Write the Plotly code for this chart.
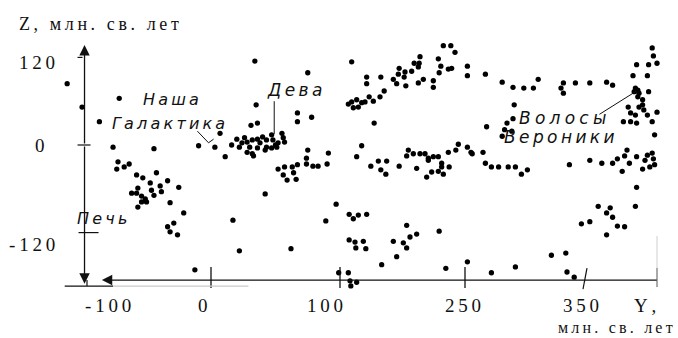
import numpy as np
import plotly.graph_objects as go

# Galaxy positions, millions of light years (Y horizontal, Z vertical)
FORNAX_Y = [-116, -104, -74, -90, -79, -46, -10,
            -75, -66, -70, -76, -60, -55, -44, -49, -35, -26, -41, -59, -64, -60,
            -56, -53, -56, -52, -46, -40, -48, -59, -33, -22, -30, -35, -33, -27, -13]
FORNAX_Z = [84, 52, 64, 32, -3, -5, -1,
            -23, -26, -30, -33, -41, -45, -38, -52, -49, -58, -56, -59, -66, -66,
            -70, -74, -78, -78, -69, -64, -62, -85, -79, -93, -107, -112, -119, -123, -171]

VIRGO_Y = [3, 7, 11, 16, 20, 24, 22, 26, 28, 30, 32, 36, 38, 36, 32, 33, 40, 43, 43, 47,
           48, 50, 52, 55, 56, 57, 51, 47, 42, 28,
           34, 75, 35, 67, 67, 78, 31, 36,
           52, 57, 63, 67, 74, 79, 83, 90, 56, 64, 59, 66, 75, 74, 91,
           42, 17, 22, 62, 89, 97, 99]
VIRGO_Z = [-3, 16, -16, 0, 8, 3, -3, 10, 4, -3, 7, 8, 3, -4, -12, -15, 11, 7, -3, 14,
           7, 0, 3, 16, 10, 4, -3, -4, -7, -10,
           115, 99, 55, 44, 32, 38, 27, 30,
           -33, -30, -30, -27, -26, -29, -29, -26, -41, -38, -48, -47, -7, -18, -11,
           -67, -103, -145, -142, -104, -81, -175]

MID_Y = [114, 132, 132, 135, 110, 114, 120, 126, 130, 116, 122, 120, 126,
         111, 116, 122, 132, 111, 118, 128, 119, 131, 110, 112, 120, 113,
         137, 149, 155, 146, 156, 171, 192, 204, 210, 218, 224, 222, 222, 231, 206,
         180, 184, 192, 219, 164, 176, 180, 168, 150, 227,
         224, 233, 238, 196, 195, 189, 194, 186, 171, 170, 178, 177, 164, 168, 179,
         194, 200, 212, 212, 149, 218, 221, 219, 230, 234, 153, 148, 140, 141,
         242, 239, 230, 252, 255, 256, 265, 218, 212, 206, 202, 196, 188, 182, 180]
MID_Z = [114, 93, 84, 66, 56, 59, 62, 58, 59, 51, 52, -16, -1,
         -95, -101, -96, -95, -130, -133, -132, -141, -142, -175, -186, -188, -193,
         -29, -34, -40, -22, -22, -29, -32, -44, -37, -36, -40, -25, -30, -30, -21,
         -110, -126, -122, -118, -132, -134, -141, -153, -164, -169,
         136, 136, 127, 121, 112, 112, 107, 101, 105, 97, 100, 93, 90, 84, 81,
         85, 90, 88, 79, 93, 118, 108, 99, 104, 105, 74, 66, 60, 30,
         1, -7, -10, -3, -10, -12, -10, -16, -16, -18, -12, -12, -12, -7, -15]

FAR_Y = [252, 252, 267, 281, 290, 299, 291, 290, 285, 283, 289, 281, 268,
         267, 272, 278, 286, 292, 297, 302, 252, 272, 292,
         307, 311, 332, 330, 332, 342, 354, 368, 373,
         406, 407, 410, 403, 393,
         385, 354, 364, 377, 383, 387, 393, 400, 402, 406, 407, 337, 373, 381, 398, 404, 408,
         393, 392, 361, 371, 368, 373, 377, 383, 354, 347, 368, 334, 322, 335, 341]
FAR_Z = [108, 95, 97, 86, 79, 78, 55, 36, 30, 21, 19, 12, 25,
         -25, -30, -30, -30, -30, -40, -34, -160, -175, -167,
         78, 90, 85, 78, 71, 85, 85, 86, 82,
         133, 122, 112, 110, 110,
         -7, -21, -25, -19, -15, -25, -16, -21, -14, -11, -19, -27, -25, -36, -33, -30, -27,
         -58, -84, -84, -86, -93, -99, -111, -112, -105, -108, -123, -148, -151, -174, -181]

COMA_Y = [390, 402, 392, 394, 391, 395, 403, 394, 398, 398, 395, 399, 386, 388, 392,
          388, 402, 410, 382, 393, 406, 408]
COMA_Z = [95, 95, 78, 75, 73, 71, 73, 66, 62, 55, 52, 48, 52, 44, 41,
          32, 41, 45, 32, 30, 32, 14]

# Axis ticks and their labels
Y_TICKS = [-100, 0, 100, 250, 350]
Y_TICK_TEXT = ["-100", "0", "100", "250", "350"]
Z_TICKS = [120, 0, -120]
Z_TICK_TEXT = ["120", "0", "-120"]

# The horizontal scale of the diagram is drawn unevenly: where each tick sits
Y_TICK_POS = [87, 211, 340, 465, 585]
W, H = 678, 338
Z_ZERO_PX, PX_PER_Z = 145, 0.73
Z_RANGE = [-(H - Z_ZERO_PX) / PX_PER_Z, Z_ZERO_PX / PX_PER_Z]

Z_AXIS_AT_Y = -102     # where the vertical axis crosses
Y_AXIS_AT_Z = -185     # where the horizontal axis runs


def y_scale(v):
    v = np.atleast_1d(np.asarray(v, dtype=float))
    out = np.interp(v, Y_TICKS, Y_TICK_POS)
    lo_slope = (Y_TICK_POS[1] - Y_TICK_POS[0]) / (Y_TICKS[1] - Y_TICKS[0])
    hi_slope = (Y_TICK_POS[-1] - Y_TICK_POS[-2]) / (Y_TICKS[-1] - Y_TICKS[-2])
    lo, hi = v < Y_TICKS[0], v > Y_TICKS[-1]
    out[lo] = Y_TICK_POS[0] + (v[lo] - Y_TICKS[0]) * lo_slope
    out[hi] = Y_TICK_POS[-1] + (v[hi] - Y_TICKS[-1]) * hi_slope
    return out


def ys(v):
    return float(y_scale(v)[0])


def spaced(s, gap="\u2009"):
    return gap.join(s)


gal_y = FORNAX_Y + VIRGO_Y + MID_Y + FAR_Y + COMA_Y
gal_z = FORNAX_Z + VIRGO_Z + MID_Z + FAR_Z + COMA_Z

fig = go.Figure()
fig.add_trace(go.Scatter(
    x=y_scale(gal_y), y=gal_z, mode="markers",
    marker=dict(size=5.3, color="black", line=dict(width=0)),
    hoverinfo="skip", showlegend=False, cliponaxis=False,
))

SERIF = "Liberation Serif"
HAND = "DejaVu Sans"
INK = "#111111"

shapes = []
annotations = []

ax_x = ys(Z_AXIS_AT_Y)

# Axis arrows
for tip in (137, -190):
    annotations.append(dict(x=ax_x, y=tip, ax=ax_x, ay=0, xref="x", yref="y",
                            axref="x", ayref="y", text="", showarrow=True,
                            arrowhead=2, arrowsize=1.6, arrowwidth=1.3,
                            arrowcolor=INK, standoff=0))
annotations.append(dict(x=ys(-88), y=Y_AXIS_AT_Z, ax=ys(411), ay=Y_AXIS_AT_Z,
                        xref="x", yref="y", axref="x", ayref="y", text="",
                        showarrow=True, arrowhead=2, arrowsize=1.6, arrowwidth=1.3,
                        arrowcolor=INK, standoff=0))

# Ticks along the horizontal axis
for t in Y_TICKS[1:4]:
    shapes.append(dict(type="line", xref="x", yref="y", ysizemode="pixel",
                       yanchor=Y_AXIS_AT_Z, x0=ys(t), x1=ys(t), y0=-8, y1=13,
                       line=dict(color=INK, width=1.3)))
shapes.append(dict(type="line", xref="x", yref="y", ysizemode="pixel",
                   yanchor=Y_AXIS_AT_Z, x0=ys(350) - 2, x1=ys(350) + 2, y0=-9, y1=12,
                   line=dict(color=INK, width=1.2)))
shapes.append(dict(type="line", xref="x", yref="y", ysizemode="pixel",
                   yanchor=Y_AXIS_AT_Z, x0=ys(-100), x1=ys(-100), y0=-6, y1=0,
                   line=dict(color=INK, width=1.2)))
# End bar of the horizontal axis
shapes.append(dict(type="line", xref="x", yref="y", ysizemode="pixel",
                   yanchor=Y_AXIS_AT_Z, x0=ys(410), x1=ys(410), y0=-7, y1=12,
                   line=dict(color="#555", width=1)))
shapes.append(dict(type="line", xref="x", yref="y", ysizemode="pixel",
                   yanchor=Y_AXIS_AT_Z, x0=ys(410), x1=ys(410), y0=12, y1=44,
                   line=dict(color="#cfcfcf", width=1)))
# Lower rule under the left part of the axis
shapes.append(dict(type="line", xref="x", yref="y", ysizemode="pixel",
                   yanchor=Y_AXIS_AT_Z, x0=ys(-118), x1=ys(-79), y0=-6, y1=-6,
                   line=dict(color=INK, width=1.2)))
shapes.append(dict(type="line", xref="x", yref="y", ysizemode="pixel",
                   yanchor=Y_AXIS_AT_Z, x0=ys(-79), x1=ys(29), y0=-6, y1=-6,
                   line=dict(color="#c8c8c8", width=1.2)))

# Ticks on the vertical axis
for z, (a, b) in zip(Z_TICKS, [(-7, -2), (-7, 6), (-6, 14)]):
    shapes.append(dict(type="line", xref="x", yref="y", xsizemode="pixel",
                       xanchor=ax_x, x0=a, x1=b, y0=z, y1=z,
                       line=dict(color=INK, width=1.2)))

# Tick labels
for t, txt, dx in zip(Y_TICKS, Y_TICK_TEXT, [21, -8, -15, -2, -4]):
    annotations.append(dict(x=ys(t), y=Y_AXIS_AT_Z, xref="x", yref="y",
                            text=spaced(txt), showarrow=False, xshift=dx, yshift=-25,
                            yanchor="middle",
                            font=dict(family=SERIF, size=19, color=INK)))
for z, txt, xpos, dy in zip(Z_TICKS, Z_TICK_TEXT, [37, 40, 32], [-5, 0, -12]):
    annotations.append(dict(x=xpos, y=z, xref="x", yref="y", text=spaced(txt),
                            showarrow=False, yshift=dy, yanchor="middle",
                            font=dict(family=SERIF, size=19, color=INK)))

# Axis titles
annotations.append(dict(x=17, y=1 - 24 / H, xref="x", yref="paper", xanchor="left",
                        yanchor="middle", text=spaced("Z, млн. св. лет"),
                        showarrow=False,
                        font=dict(family=SERIF, size=18, color=INK)))
annotations.append(dict(x=ys(350), y=Y_AXIS_AT_Z, xref="x", yref="y", xanchor="left",
                        yanchor="middle", text=spaced("Y,"), showarrow=False,
                        xshift=47, yshift=-25,
                        font=dict(family=SERIF, size=19, color=INK)))
annotations.append(dict(x=674, y=1 - 327 / H, xref="x", yref="paper", xanchor="right",
                        yanchor="middle", text=spaced("млн. св. лет"),
                        showarrow=False, borderpad=0,
                        font=dict(family=SERIF, size=16, color=INK)))

# Named groups
def name(text, y, z, size=16, gap="\u2009"):
    annotations.append(dict(x=ys(y), y=z, xref="x", yref="y", showarrow=False,
                            yanchor="middle",
                            text="<i>" + spaced(text, gap) + "</i>",
                            font=dict(family=HAND, size=size, color=INK)))

name("Наша", -32, 62)
name("Галактика", -34, 30)
name("Дева", 65, 75, size=17)
name("Волосы", 331, 37, size=17, gap="\u2005")
name("Вероники", 329, 11, size=17)
name("Печь", -88, -100)

# Leader lines
for (ya, za), (yb, zb) in [((-11, 19), (-2, 3)), ((-2, 3), (2, 8)),
                           ((49, 60), (49, 15)), ((362, 42), (393, 74))]:
    shapes.append(dict(type="line", xref="x", yref="y", x0=ys(ya), y0=za,
                       x1=ys(yb), y1=zb, line=dict(color=INK, width=1)))

fig.update_layout(
    width=W, height=H, margin=dict(l=0, r=0, t=0, b=0, pad=0),
    paper_bgcolor="white", plot_bgcolor="white",
    xaxis=dict(visible=False, range=[0, W], fixedrange=True),
    yaxis=dict(visible=False, range=Z_RANGE, fixedrange=True),
    shapes=shapes, annotations=annotations, showlegend=False,
)

fig.write_html("out.html")
